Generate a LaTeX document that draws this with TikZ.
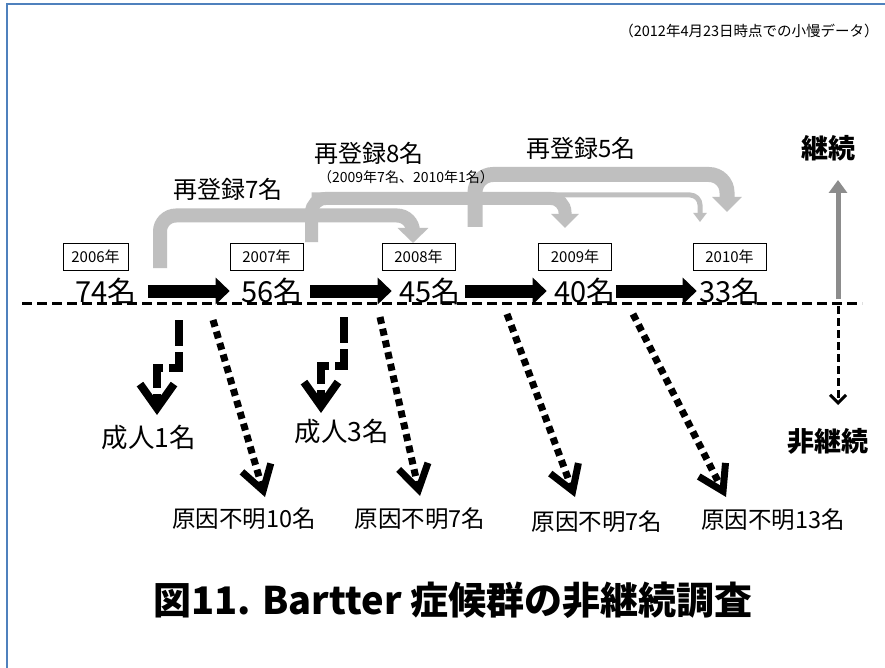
\documentclass[tikz,border=0pt]{standalone}
\usepackage{fontspec}
\setmainfont{Noto Sans CJK JP}
\usetikzlibrary{arrows.meta}
\definecolor{frameblue}{RGB}{79,129,189}
\definecolor{lgray}{RGB}{191,191,191}
\definecolor{dgray}{RGB}{140,140,140}
\newcommand{\fs}[1]{\fontsize{#1pt}{#1pt}\selectfont}
\begin{document}
\begin{tikzpicture}[x=1pt,y=-1pt,
  yearbox/.style={draw, line width=0.8pt, minimum height=27pt, minimum width=73pt, inner sep=0pt, font=\fs{15}},
  count/.style={inner sep=0pt, font=\fs{29}},
  lbl/.style={inner sep=0pt, font=\fs{23.5}},
  blk/.style={line width=13pt, -{Triangle[length=14pt,width=26pt]}},
  garr/.style={draw=lgray, line width=14pt, -{Triangle[length=15pt,width=30pt]}},
  elbow/.style={line width=8pt, dash pattern=on 26pt off 6pt, -{Straight Barb[length=24pt,width=34pt]}},
  dotarr/.style={line width=7pt, dash pattern=on 7pt off 5pt, -{Straight Barb[length=24pt,width=30pt]}},
  bold/.style={inner sep=0pt, font=\fs{27}\bfseries}
]
\useasboundingbox (0,0) rectangle (885,668);
\fill[white] (0,0) rectangle (885,668);
\draw[frameblue, line width=2pt] (7,668) -- (7,4) -- (885,4);

% note
\node[inner sep=0pt, font=\fs{14.5}] (note) at (749,31) {（2012年4月23日時点での小慢データ）};

% gray re-registration arrows
\coordinate (g1s) at (160,268);
\coordinate (g1e) at (413,243);
\coordinate (g2s) at (311.5,242);
\coordinate (g2e) at (565,228);
\coordinate (g2b) at (700,222);
\coordinate (g3s) at (475,227);
\coordinate (g3e) at (727,212);
\draw[garr, rounded corners=16pt] (g1s) -- (160,215.5) -- (413,215.5) [rounded corners=10pt] -- (g1e);
\draw[draw=lgray, line width=5pt, rounded corners=10pt, -{Triangle[length=9pt,width=13pt]}] (311.5,195) -- (700,195) -- (g2b);
\draw[garr, line width=13pt, rounded corners=14pt, -{Triangle[length=14pt,width=27pt]}] (g2s) -- (311.5,198.5) -- (565,198.5) -- (g2e);
\draw[garr, line width=15pt, rounded corners=18pt, -{Triangle[length=15pt,width=29pt]}] (g3s) -- (475,174.5) -- (727,174.5) -- (g3e);

\node[inner sep=0pt, font=\fs{24}] (r7) at (228,189) {再登録7名};
\node[inner sep=0pt, font=\fs{24}] (r8) at (369,153) {再登録8名};
\node[inner sep=0pt, font=\fs{14}] (r8d) at (406,177) {（2009年7名、2010年1名）};
\node[inner sep=0pt, font=\fs{24}] (r5) at (581,148) {再登録5名};

% baseline
\coordinate (bl) at (22,303);
\coordinate (br) at (862,303);
\draw[line width=3pt, dash pattern=on 10pt off 5pt] (bl) -- (br);

% year boxes
\node[yearbox, minimum width=65pt] (y2006) at (95.5,256.5) {2006年};
\node[yearbox] (y2007) at (266.5,256.5) {2007年};
\node[yearbox] (y2008) at (418.5,256.5) {2008年};
\node[yearbox] (y2009) at (575,256.5) {2009年};
\node[yearbox] (y2010) at (729.5,256.5) {2010年};

% counts
\node[count] (n74) at (106,291) {74名};
\node[count] (n56) at (272,291) {56名};
\node[count] (n45) at (430,291) {45名};
\node[count] (n40) at (585,291) {40名};
\node[count] (n33) at (730,291) {33名};

\draw[blk, shorten <=11pt, shorten >=11.5pt] (n74) -- (n56);
\draw[blk, shorten <=7.5pt, shorten >=7.5pt] (n56) -- (n45);
\draw[blk, shorten <=4.5pt, shorten >=7.5pt] (n45) -- (n40);
\draw[blk, shorten <=0pt, shorten >=2.5pt] (n40) -- (n33);

% continuation axis
\node[bold] (kz) at (828,148) {継続};
\node[bold] (hk) at (828,441) {非継続};
\coordinate (kb) at (838,299);
\coordinate (kt) at (838,180);
\draw[dgray, line width=5pt, -{Triangle[length=13pt,width=18pt]}] (kb) -- (kt);
\coordinate (hb) at (838,306);
\coordinate (ht) at (838,405);
\draw[line width=3pt, dash pattern=on 8pt off 4pt, -{Straight Barb[length=8pt,width=16pt]}] (hb) -- (ht);

% adult transitions
\node[lbl, font=\fs{26.5}] (a1) at (149,437) {成人1名};
\node[lbl, font=\fs{26.5}] (a3) at (342,431) {成人3名};
\coordinate (e1s) at (179,320);
\coordinate (e1e) at (157,415);
\coordinate (e2s) at (344,317);
\coordinate (e2e) at (321,413);
\draw[elbow] (e1s) -- (179,368) -- (157,368) -- (e1e);
\draw[elbow] (e2s) -- (344,366) -- (321,366) -- (e2e);

% unknown causes
\node[lbl] (u1) at (244,519) {原因不明10名};
\node[lbl] (u2) at (420,519) {原因不明7名};
\node[lbl] (u3) at (597,522) {原因不明7名};
\node[lbl] (u4) at (773,520) {原因不明13名};
\coordinate (d1s) at (213,320);
\coordinate (d1e) at (265,497);
\coordinate (d2s) at (380,317);
\coordinate (d2e) at (420,496);
\coordinate (d3s) at (507,314);
\coordinate (d3e) at (575,497);
\coordinate (d4s) at (633,314);
\coordinate (d4e) at (726,497);
\draw[dotarr] (d1s) -- (d1e);
\draw[dotarr] (d2s) -- (d2e);
\draw[dotarr] (d3s) -- (d3e);
\draw[dotarr] (d4s) -- (d4e);

% title
\node[inner sep=0pt, font=\fs{38}\bfseries] (title) at (453,600) {図11. Bartter 症候群の非継続調査};
\end{tikzpicture}
\end{document}
